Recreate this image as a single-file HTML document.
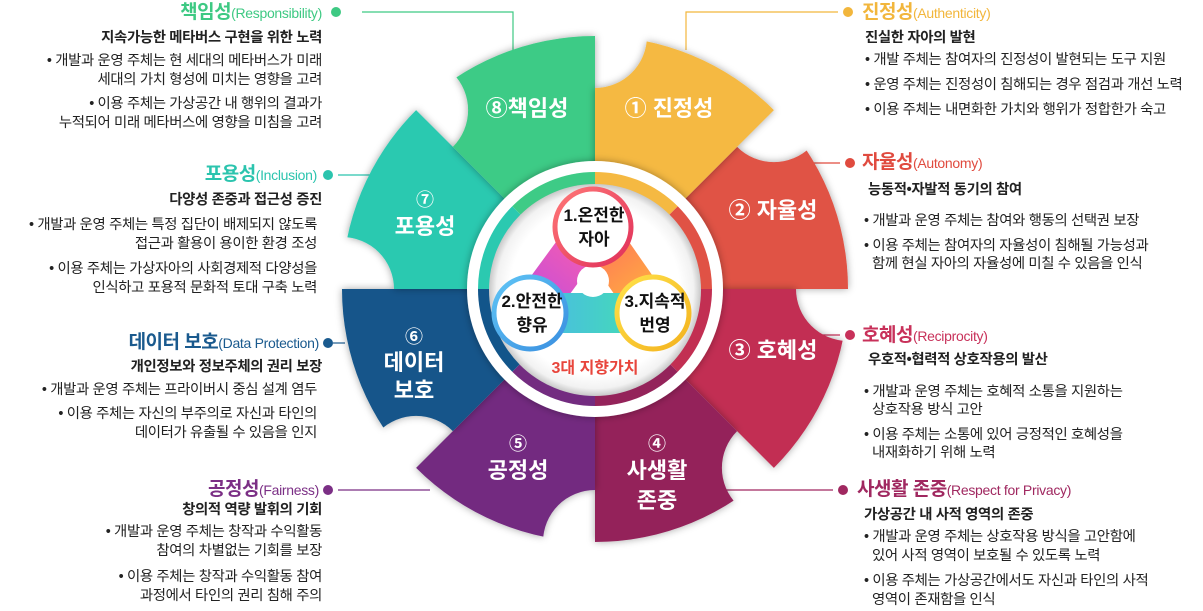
<!DOCTYPE html>
<html><head><meta charset="utf-8">
<style>
body{margin:0;width:1203px;height:611px;background:#fff;overflow:hidden;position:relative;font-family:"Liberation Sans","Noto Sans CJK KR",sans-serif;}
.t{position:absolute;white-space:nowrap;line-height:18px;font-size:14.4px;color:#222;letter-spacing:-0.35px}
.L{right:881px;text-align:right}
.R{left:862px}
.h{font-size:19px;font-weight:700;line-height:22px;letter-spacing:-0.5px}
.h span{font-size:14px;font-weight:400;letter-spacing:-0.3px}
.b{font-weight:700}
svg{position:absolute;left:0;top:0}
</style></head><body>
<svg width="1203" height="611" viewBox="0 0 1203 611" font-family="Liberation Sans, Noto Sans CJK KR, sans-serif">
<defs>
<filter id="sh" x="-20%" y="-20%" width="140%" height="140%"><feDropShadow dx="0" dy="0" stdDeviation="4" flood-color="#000" flood-opacity="0.35"/></filter>
<radialGradient id="inner" cx="50%" cy="50%" r="50%"><stop offset="0.8" stop-color="#fff"/><stop offset="0.93" stop-color="#f2f2f2"/><stop offset="1" stop-color="#c8c8c8"/></radialGradient>
<linearGradient id="g1" gradientUnits="userSpaceOnUse" x1="555" y1="189" x2="631" y2="265"><stop offset="0" stop-color="#f77"/><stop offset="1" stop-color="#e0305a"/></linearGradient>
<linearGradient id="g2" gradientUnits="userSpaceOnUse" x1="494" y1="277" x2="566" y2="349"><stop offset="0" stop-color="#5fc4f5"/><stop offset="1" stop-color="#3a8fe0"/></linearGradient>
<linearGradient id="g3" gradientUnits="userSpaceOnUse" x1="617" y1="277" x2="689" y2="349"><stop offset="0" stop-color="#ffe24a"/><stop offset="1" stop-color="#f3b21e"/></linearGradient>
<linearGradient id="gp" gradientUnits="userSpaceOnUse" x1="540" y1="300" x2="595" y2="230"><stop offset="0" stop-color="#c94fd6"/><stop offset="1" stop-color="#ff5fa8"/></linearGradient>
<linearGradient id="go" gradientUnits="userSpaceOnUse" x1="595" y1="230" x2="650" y2="300"><stop offset="0" stop-color="#ff6f5a"/><stop offset="1" stop-color="#ffb040"/></linearGradient>
<linearGradient id="gt" gradientUnits="userSpaceOnUse" x1="530" y1="313" x2="653" y2="313"><stop offset="0" stop-color="#4ab8e8"/><stop offset="1" stop-color="#43e0b0"/></linearGradient>
</defs>
<g stroke-width="1.2" fill="none">
<polyline points="362,12 513,12 513,50" stroke="#3ec983"/>
<polyline points="838,12 686,12 686,50" stroke="#f2b63c"/>
<line x1="338" y1="175" x2="375" y2="175" stroke="#2bc4ae"/>
<line x1="333" y1="343" x2="345" y2="343" stroke="#1a5a8e"/>
<line x1="338" y1="490" x2="430" y2="490" stroke="#7b2f85"/>
<line x1="810" y1="163" x2="840" y2="163" stroke="#e04b3f"/>
<line x1="810" y1="335" x2="840" y2="335" stroke="#c8315a"/>
<line x1="720" y1="490" x2="833" y2="490" stroke="#a02860"/>
</g>
<g>
<circle cx="336" cy="12" r="5" fill="#3ec983"/>
<circle cx="848" cy="12" r="5" fill="#f2b63c"/>
<circle cx="328" cy="175" r="5" fill="#2bc4ae"/>
<circle cx="328" cy="343" r="5" fill="#1a5a8e"/>
<circle cx="328" cy="490" r="5" fill="#7b2f85"/>
<circle cx="850" cy="163" r="5" fill="#e04b3f"/>
<circle cx="850" cy="335" r="5" fill="#c8315a"/>
<circle cx="843" cy="490" r="5" fill="#a02860"/>
</g>
<g id="wheel"></g>
<circle cx="595" cy="289" r="128" fill="#fff" filter="url(#sh)"/>
<g id="band"></g>
<circle cx="595" cy="290" r="106" fill="url(#inner)"/>
<line x1="593" y1="227" x2="530" y2="313" stroke="url(#gp)" stroke-width="42" stroke-linecap="round"/>
<line x1="593" y1="227" x2="653" y2="313" stroke="url(#go)" stroke-width="42" stroke-linecap="round"/>
<line x1="530" y1="313" x2="653" y2="313" stroke="url(#gt)" stroke-width="40" stroke-linecap="round"/>
<circle cx="593" cy="281" r="16" fill="#fff"/>
<circle cx="593" cy="227" r="38" fill="#fff" stroke="url(#g1)" stroke-width="5"/>
<circle cx="530" cy="313" r="36" fill="#fff" stroke="url(#g2)" stroke-width="5"/>
<circle cx="653" cy="313" r="36" fill="#fff" stroke="url(#g3)" stroke-width="5"/>
<g font-size="17" font-weight="700" fill="#111" text-anchor="middle">
<text x="594" y="221">1.온전한</text><text x="594" y="245">자아</text>
<text x="532" y="307">2.안전한</text><text x="532" y="331">향유</text>
<text x="655" y="307">3.지속적</text><text x="655" y="331">번영</text>
</g>
<text x="595" y="373" font-size="16" font-weight="700" fill="#e8453c" text-anchor="middle">3대 지향가치</text>
<g fill="#fff" font-weight="700" font-size="22" text-anchor="middle">
<text x="669" y="116">① 진정성</text>
<text x="527" y="116">⑧책임성</text>
<text x="773" y="218">② 자율성</text>
<text x="425" y="206" font-size="18">⑦</text><text x="425" y="234">포용성</text>
<text x="414" y="343" font-size="18">⑥</text><text x="414" y="370">데이터</text><text x="414" y="398">보호</text>
<text x="773" y="358">③ 호혜성</text>
<text x="518" y="450" font-size="18">⑤</text><text x="518" y="478">공정성</text>
<text x="657" y="450" font-size="18">④</text><text x="657" y="478">사생활</text><text x="657" y="508">존중</text>
</g>
</svg>
<script>
(function(){
var cx=595,cy=289,R=253,br=52,NS="http://www.w3.org/2000/svg";
var cols=["#e05245","#c22f52","#94235a","#732c80","#12558a","#2bc9b0","#3ecb86","#f5b942"];
var wheel=document.getElementById("wheel"),band=document.getElementById("band"),defs=document.querySelector("defs");
function pt(a,r){a=a*Math.PI/180;return [cx+r*Math.cos(a),cy+r*Math.sin(a)];}
for(var i=0;i<8;i++){
 var a0=-45+45*i,a1=a0+45;
 var p0=pt(a0,R),p1=pt(a1,R),bc=pt(a0,R);
 var m=document.createElementNS(NS,"mask");m.setAttribute("id","m"+i);
 m.innerHTML='<rect x="0" y="0" width="1203" height="611" fill="#fff"/><circle cx="'+bc[0]+'" cy="'+bc[1]+'" r="'+br+'" fill="#000"/>';
 defs.appendChild(m);
 var d="M"+cx+","+cy+" L"+p0[0]+","+p0[1]+" A"+R+","+R+" 0 0 1 "+p1[0]+","+p1[1]+" Z";
 var g=document.createElementNS(NS,"g");g.setAttribute("filter","url(#sh)");
 var p=document.createElementNS(NS,"path");p.setAttribute("d",d);p.setAttribute("fill",cols[i]);p.setAttribute("mask","url(#m"+i+")");
 g.appendChild(p);wheel.appendChild(g);
 var r2=117,q0=pt(a0,r2),q1=pt(a1,r2);
 var d2="M"+cx+","+cy+" L"+q0[0]+","+q0[1]+" A"+r2+","+r2+" 0 0 1 "+q1[0]+","+q1[1]+" Z";
 var p2=document.createElementNS(NS,"path");p2.setAttribute("d",d2);p2.setAttribute("fill",cols[i]);band.appendChild(p2);
}
})();
</script>
<div class="t L h" style="top:2px;color:#3ec983">책임성<span>(Responsibility)</span></div>
<div class="t L b" style="top:29px">지속가능한 메타버스 구현을 위한 노력</div>
<div class="t L" style="top:52px">• 개발과 운영 주체는 현 세대의 메타버스가 미래</div>
<div class="t L" style="top:71px">세대의 가치 형성에 미치는 영향을 고려</div>
<div class="t L" style="top:95px">• 이용 주체는 가상공간 내 행위의 결과가</div>
<div class="t L" style="top:114px">누적되어 미래 메타버스에 영향을 미침을 고려</div>

<div class="t L h" style="top:164px;right:886px;color:#2bc4ae">포용성<span>(Inclusion)</span></div>
<div class="t L b" style="top:191px">다양성 존중과 접근성 증진</div>
<div class="t L" style="top:216px;right:886px">• 개발과 운영 주체는 특정 집단이 배제되지 않도록</div>
<div class="t L" style="top:235px;right:886px">접근과 활용이 용이한 환경 조성</div>
<div class="t L" style="top:260px;right:886px">• 이용 주체는 가상자아의 사회경제적 다양성을</div>
<div class="t L" style="top:279px;right:886px">인식하고 포용적 문화적 토대 구축 노력</div>

<div class="t L h" style="top:332px;right:884px;color:#1a5a8e">데이터 보호<span>(Data Protection)</span></div>
<div class="t L b" style="top:358px">개인정보와 정보주체의 권리 보장</div>
<div class="t L" style="top:381px;right:886px">• 개발과 운영 주체는 프라이버시 중심 설계 염두</div>
<div class="t L" style="top:405px;right:886px">• 이용 주체는 자신의 부주의로 자신과 타인의</div>
<div class="t L" style="top:424px;right:886px">데이터가 유출될 수 있음을 인지</div>

<div class="t L h" style="top:479px;right:884px;color:#7b2f85">공정성<span>(Fairness)</span></div>
<div class="t L b" style="top:501px">창의적 역량 발휘의 기회</div>
<div class="t L" style="top:523px">• 개발과 운영 주체는 창작과 수익활동</div>
<div class="t L" style="top:542px">참여의 차별없는 기회를 보장</div>
<div class="t L" style="top:568px">• 이용 주체는 창작과 수익활동 참여</div>
<div class="t L" style="top:587px">과정에서 타인의 권리 침해 주의</div>

<div class="t R h" style="top:2px;color:#f2b63c">진정성<span>(Authenticity)</span></div>
<div class="t R b" style="top:29px;left:865px">진실한 자아의 발현</div>
<div class="t R" style="top:51px;left:865px">• 개발 주체는 참여자의 진정성이 발현되는 도구 지원</div>
<div class="t R" style="top:76px;left:865px">• 운영 주체는 진정성이 침해되는 경우 점검과 개선 노력</div>
<div class="t R" style="top:101px;left:865px">• 이용 주체는 내면화한 가치와 행위가 정합한가 숙고</div>

<div class="t R h" style="top:152px;color:#e04b3f">자율성<span>(Autonomy)</span></div>
<div class="t R b" style="top:181px;left:868px">능동적•자발적 동기의 참여</div>
<div class="t R" style="top:212px;left:864px">• 개발과 운영 주체는 참여와 행동의 선택권 보장</div>
<div class="t R" style="top:237px;left:864px">• 이용 주체는 참여자의 자율성이 침해될 가능성과</div>
<div class="t R" style="top:255px;left:872px">함께 현실 자아의 자율성에 미칠 수 있음을 인식</div>

<div class="t R h" style="top:325px;color:#c8315a">호혜성<span>(Reciprocity)</span></div>
<div class="t R b" style="top:351px;left:868px">우호적•협력적 상호작용의 발산</div>
<div class="t R" style="top:383px;left:864px">• 개발과 운영 주체는 호혜적 소통을 지원하는</div>
<div class="t R" style="top:401px;left:872px">상호작용 방식 고안</div>
<div class="t R" style="top:426px;left:864px">• 이용 주체는 소통에 있어 긍정적인 호혜성을</div>
<div class="t R" style="top:444px;left:872px">내재화하기 위해 노력</div>

<div class="t R h" style="top:479px;left:857px;color:#a02860">사생활 존중<span>(Respect for Privacy)</span></div>
<div class="t R b" style="top:506px;left:864px">가상공간 내 사적 영역의 존중</div>
<div class="t R" style="top:528px;left:864px">• 개발과 운영 주체는 상호작용 방식을 고안함에</div>
<div class="t R" style="top:547px;left:872px">있어 사적 영역이 보호될 수 있도록 노력</div>
<div class="t R" style="top:572px;left:864px">• 이용 주체는 가상공간에서도 자신과 타인의 사적</div>
<div class="t R" style="top:591px;left:872px">영역이 존재함을 인식</div>
</body></html>
